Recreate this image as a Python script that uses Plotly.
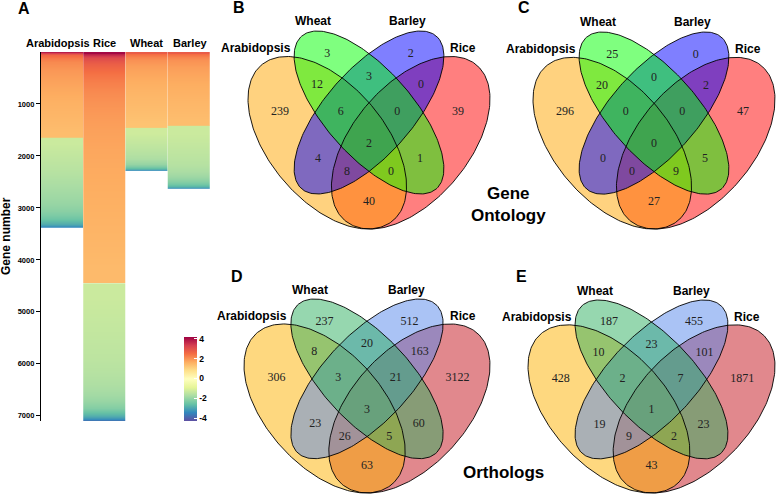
import numpy as np
import plotly.graph_objects as go

W, H = 778, 497

# ---------------- Panel A data (sorted log fold change per gene, read as segments) ----------------
species = ["Arabidopsis", "Rice", "Wheat", "Barley"]

arab_edges = [0, 15, 60, 200, 500, 800, 1100, 1400, 1650, 1900, 2200, 2500, 2800, 3050, 3200, 3300, 3360, 3385]
arab_fc = [3.8, 2.9, 2.3, 1.95, 1.75, 1.6, 1.5, 1.4, -1.3, -1.45, -1.6, -1.8, -2.0, -2.3, -2.7, -3.1, -3.8]

rice_edges = [0, 40, 120, 300, 600, 1000, 1500, 2200, 3000, 3800, 4450,
              5000, 5600, 6200, 6600, 6850, 6980, 7060, 7096]
rice_fc = [4.1, 3.4, 2.8, 2.4, 2.1, 1.9, 1.75, 1.65, 1.55, 1.45,
           -1.3, -1.4, -1.5, -1.7, -2.0, -2.5, -3.0, -3.8]

wheat_edges = [0, 30, 150, 400, 700, 1000, 1250, 1460, 1700, 1950, 2150, 2250, 2290]
wheat_fc = [2.8, 2.2, 1.85, 1.65, 1.5, 1.4, 1.3, -1.25, -1.45, -1.7, -2.3, -3.3]

barley_edges = [0, 30, 150, 450, 800, 1150, 1420, 1750, 2050, 2300, 2480, 2590, 2635]
barley_fc = [2.8, 2.2, 1.85, 1.65, 1.5, 1.4, -1.3, -1.45, -1.6, -1.9, -2.4, -3.3]

column_edges = [arab_edges, rice_edges, wheat_edges, barley_edges]
column_fc = [arab_fc, rice_fc, wheat_fc, barley_fc]

y_ticks = [1000, 2000, 3000, 4000, 5000, 6000, 7000]
cbar_ticks = [-4, -2, 0, 2, 4]
cbar_text = ["-4", "-2", "0", "2", "4"]

# ---------------- Venn data ----------------
sets = ["Arabidopsis", "Wheat", "Barley", "Rice"]
regions = ["A", "W", "B", "R", "AW", "WB", "BR", "AWB", "WBR", "AWBR", "AB", "ABR", "AWR", "WR", "AR"]
venn_B = [239, 3, 2, 39, 12, 3, 0, 6, 0, 2, 4, 8, 0, 1, 40]
venn_C = [296, 25, 0, 47, 20, 0, 2, 0, 0, 0, 0, 0, 9, 5, 27]
venn_D = [306, 237, 512, 3122, 8, 20, 163, 3, 21, 3, 23, 26, 5, 60, 63]
venn_E = [428, 187, 455, 1871, 10, 23, 101, 2, 7, 1, 19, 9, 2, 23, 43]

# ---------------- layout helpers ----------------
FONT = "Liberation Sans, Arial, sans-serif"
SERIF = "Liberation Serif, Times New Roman, serif"

def pxx(p):
    return p / W

def pxy(p):
    return 1 - p / H

def ann(x, y, text, size, **kw):
    d = dict(x=x, y=y, xref="paper", yref="paper", text=text, showarrow=False,
             xanchor="center", yanchor="middle",
             font=dict(family=FONT, size=size, color="black", weight="bold"))
    d.update(kw)
    return d

fig = go.Figure()

# ---------------- Panel A ----------------
CMIN, CMAX = -4.3, 4.2
for i, (edges, vals) in enumerate(zip(column_edges, column_fc)):
    # split into up-regulated and down-regulated parts so smoothing does not cross zero
    npos = sum(1 for v in vals if v > 0)
    parts = [(edges[:npos + 1], vals[:npos]), (edges[npos:], vals[npos:])]
    for e, v in parts:
        fig.add_trace(go.Heatmap(
            x=[i, i + 0.5, i + 1], y=e, z=[[val, val] for val in v],
            coloraxis="coloraxis", hoverinfo="skip", zsmooth="best",
            xaxis="x", yaxis="y",
        ))

# ---------------- Venn geometry ----------------
ell = {
    "Arabidopsis": dict(cx=0.35, cy=0.47, a=0.35, b=0.20, ang=-45),
    "Wheat": dict(cx=0.50, cy=0.57, a=0.35, b=0.15, ang=-45),
    "Barley": dict(cx=0.50, cy=0.57, a=0.35, b=0.15, ang=45),
    "Rice": dict(cx=0.65, cy=0.47, a=0.35, b=0.20, ang=45),
}

def ellipse_pts(p, n=240):
    t = np.linspace(0, 2 * np.pi, n)
    th = np.deg2rad(p["ang"])
    x = p["cx"] + p["a"] * np.cos(t) * np.cos(th) - p["b"] * np.sin(t) * np.sin(th)
    y = p["cy"] + p["a"] * np.cos(t) * np.sin(th) + p["b"] * np.sin(t) * np.cos(th)
    return x, y

pts = {k: ellipse_pts(v) for k, v in ell.items()}
allx = np.concatenate([pts[k][0] for k in pts])
ally = np.concatenate([pts[k][1] for k in pts])
XMIN, XMAX, YMIN, YMAX = allx.min(), allx.max(), ally.min(), ally.max()

label_pos = {
    "A": (0.18, 0.572), "W": (0.35, 0.763), "B": (0.65, 0.763), "R": (0.82, 0.572),
    "AW": (0.313, 0.661), "WB": (0.50, 0.687), "BR": (0.687, 0.661),
    "AWB": (0.398, 0.572), "WBR": (0.602, 0.572), "AWBR": (0.50, 0.466),
    "AB": (0.317, 0.417), "ABR": (0.421, 0.374), "AWR": (0.579, 0.374),
    "WR": (0.683, 0.417), "AR": (0.50, 0.275),
}
cat_pos = {"Arabidopsis": (0.095, 0.783), "Wheat": (0.30, 0.871),
           "Barley": (0.64, 0.871), "Rice": (0.838, 0.783)}

top_colors = {"Arabidopsis": "rgba(255,165,0,0.5)", "Wheat": "rgba(0,255,0,0.5)",
              "Barley": "rgba(0,0,255,0.5)", "Rice": "rgba(255,0,0,0.5)"}
bot_colors = {"Arabidopsis": "rgba(253,178,0,0.5)", "Wheat": "rgba(45,175,95,0.5)",
              "Barley": "rgba(85,135,235,0.5)", "Rice": "rgba(195,18,28,0.5)"}
draw_order = ["Rice", "Arabidopsis", "Barley", "Wheat"]

panels = [
    dict(letter="B", counts=venn_B, box=(248, 490, 31, 229), colors=top_colors, ax=2),
    dict(letter="C", counts=venn_C, box=(533, 775, 32, 229), colors=top_colors, ax=3),
    dict(letter="D", counts=venn_D, box=(244, 490, 299, 493), colors=bot_colors, ax=4),
    dict(letter="E", counts=venn_E, box=(528, 775, 300, 493), colors=bot_colors, ax=5),
]

annotations = []
layout_axes = {}
for p in panels:
    x0, x1, y0, y1 = p["box"]
    sx = (x1 - x0) / (XMAX - XMIN)
    sy = (y1 - y0) / (YMAX - YMIN)
    dx0, dx1 = max(0, x0 - 3), min(W, x1 + 3)
    dy0, dy1 = max(0, y0 - 3), min(H, y1 + 3)
    xr = [XMIN + (dx0 - x0) / sx, XMIN + (dx1 - x0) / sx]
    yr = [YMIN - (dy1 - y1) / sy, YMIN + (y1 - dy0) / sy]
    k = p["ax"]
    layout_axes[f"xaxis{k}"] = dict(domain=[pxx(dx0), pxx(dx1)], range=xr, visible=False,
                                    anchor=f"y{k}", fixedrange=True)
    layout_axes[f"yaxis{k}"] = dict(domain=[pxy(dy1), pxy(dy0)], range=yr, visible=False,
                                    anchor=f"x{k}", fixedrange=True)
    xa, ya = f"x{k}", f"y{k}"
    for s in draw_order:
        ex, ey = pts[s]
        fig.add_trace(go.Scatter(x=ex, y=ey, mode="lines", fill="toself",
                                 fillcolor=p["colors"][s], line=dict(width=0),
                                 hoverinfo="skip", showlegend=False, xaxis=xa, yaxis=ya))
    for s in draw_order:
        ex, ey = pts[s]
        fig.add_trace(go.Scatter(x=ex, y=ey, mode="lines", line=dict(color="black", width=0.9),
                                 hoverinfo="skip", showlegend=False, xaxis=xa, yaxis=ya))
    fig.add_trace(go.Scatter(
        x=[label_pos[r][0] for r in regions], y=[label_pos[r][1] for r in regions],
        text=[str(c) for c in p["counts"]], mode="text",
        textfont=dict(family=SERIF, size=12, color="#222222"),
        hoverinfo="skip", showlegend=False, xaxis=xa, yaxis=ya))
    for s in sets:
        ux, uy = cat_pos[s]
        px_ = x0 + (ux - XMIN) * sx
        py_ = y1 - (uy - YMIN) * sy
        annotations.append(ann(pxx(px_), pxy(py_), s, 12))

# panel letters
for letter, (lx, ly) in {"A": (24, 8.5), "B": (239, 7.5), "C": (524, 8),
                         "D": (237, 276), "E": (521, 276)}.items():
    annotations.append(ann(pxx(lx), pxy(ly), letter, 16))

# section titles
annotations.append(ann(pxx(508), pxy(205), "Gene<br>Ontology", 17))
annotations.append(ann(pxx(504), pxy(472), "Orthologs", 17))

# panel A column labels
col_shift = [-4.5, 0, 0, 2]
for i, (name, sh) in enumerate(zip(species, col_shift)):
    annotations.append(ann(i + 0.5, pxy(43), name, 11, xref="x", xshift=sh))
annotations.append(ann(pxx(6), pxy(236), "Gene number", 12, textangle=-90))

fig.update_layout(
    width=W, height=H, autosize=False,
    margin=dict(l=0, r=0, t=0, b=0),
    paper_bgcolor="white", plot_bgcolor="white",
    showlegend=False,
    xaxis=dict(domain=[pxx(41), pxx(210)], range=[0, 4], visible=False,
               fixedrange=True, anchor="y"),
    yaxis=dict(domain=[pxy(421), pxy(52)], range=[7100, 0], tickvals=y_ticks,
               showline=True, linecolor="black", linewidth=1.3, ticks="outside",
               ticklen=4, tickwidth=1, tickcolor="black", showgrid=False, zeroline=False,
               tickfont=dict(family=FONT, size=7.5, color="black", weight="bold"),
               fixedrange=True, anchor="x"),
    coloraxis=dict(
        colorscale="Spectral_r", cmin=CMIN, cmax=CMAX,
        colorbar=dict(thickness=13, len=84, lenmode="pixels",
                      x=pxx(184), xanchor="left", y=pxy(421), yanchor="bottom",
                      outlinewidth=0, tickvals=cbar_ticks, ticktext=cbar_text,
                      ticks="inside", tickcolor="white", ticklen=3,
                      tickfont=dict(family=FONT, size=8.5, color="black", weight="bold"),
                      xpad=0, ypad=0)),
    annotations=annotations,
    **layout_axes,
)

fig.write_html("out.html", config={"displayModeBar": False},
               post_script="document.body.style.margin='0';")
